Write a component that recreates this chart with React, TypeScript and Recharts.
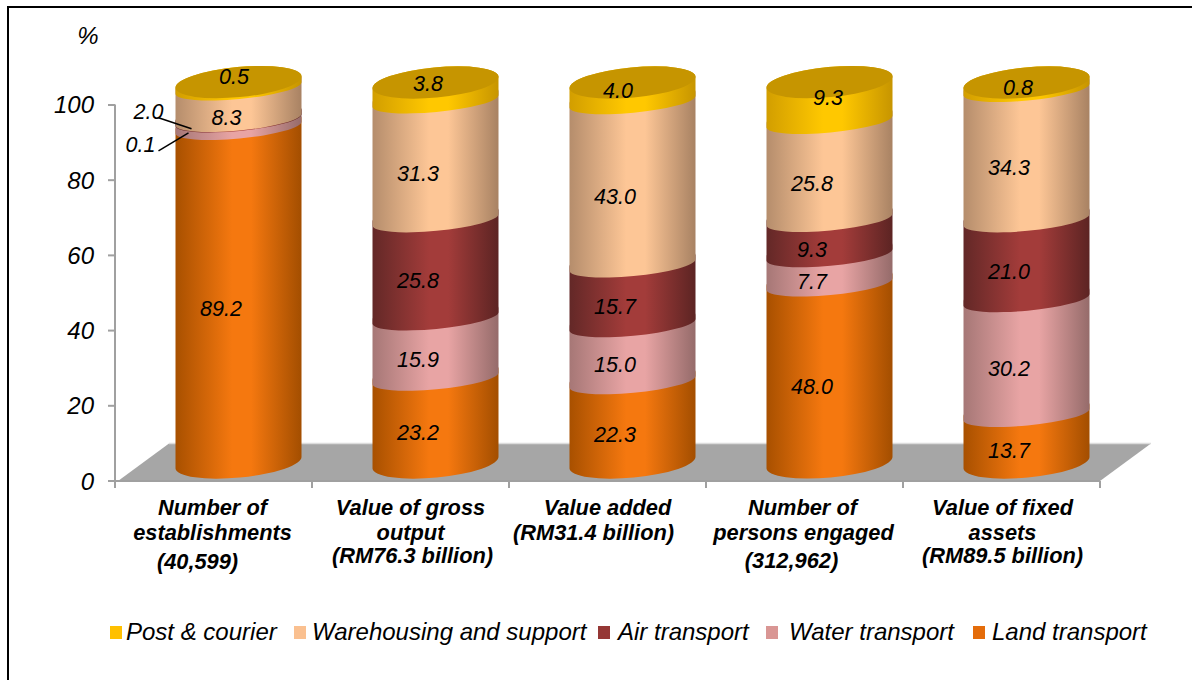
import React from 'react';
import { BarChart, Bar, XAxis, YAxis, Legend, LabelList, ReferenceArea } from 'recharts';

const categories = [
  'Number of|establishments|(40,599)',
  'Value of gross|output|(RM76.3 billion)',
  'Value added|(RM31.4 billion)',
  'Number of|persons engaged|(312,962)',
  'Value of fixed|assets|(RM89.5 billion)',
];
const land = [89.2, 23.2, 22.3, 48.0, 13.7];
const water = [2.0, 15.9, 15.0, 7.7, 30.2];
const air = [0.1, 25.8, 15.7, 9.3, 21.0];
const warehousing = [8.3, 31.3, 43.0, 25.8, 34.3];
const post = [0.5, 3.8, 4.0, 9.3, 0.8];
const yTicks = [0, 20, 40, 60, 80, 100];

const data = categories.map((name, i) => ({
  name,
  land: land[i],
  water: water[i],
  air: air[i],
  warehousing: warehousing[i],
  post: post[i],
}));

// Layout of the pseudo-3D drawing
const PLOT_BOTTOM = 481;
const CYL_BASE = 462.5;
const CYL_K = 1.0106;
const CYL_DX = 24.5;
const RY = 15;
const RY_INNER = 11;
const INNER_SHIFT = 4;
const TILT = 5.4;
const FLOOR_SHIFT = 51;
const BAND = 197;
const FONT = '"Liberation Sans", Arial, sans-serif';

type Grad = [string, string, string];
const gradients: Record<string, Grad> = {
  land: ['#a85000', '#f5780f', '#a34e00'],
  water: ['#a67776', '#e8a4a4', '#956b6a'],
  air: ['#632827', '#a33c3a', '#5c2423'],
  warehousing: ['#b58d6c', '#fdc696', '#a88263'],
  post: ['#d29e00', '#ffc800', '#c79500'],
};

const cylY = (y: number) => CYL_BASE - (PLOT_BOTTOM - y) * CYL_K;

function Cylinder(props: any) {
  const { x, y, width, height, index, seriesKey, isTop, isBottom } = props;
  const left = x + CYL_DX;
  const right = left + width;
  const rx = width / 2;
  const d = rx * Math.tan((TILT * Math.PI) / 180);
  const top = cylY(y);
  const bottom = cylY(y + height) + (isBottom ? 0 : INNER_SHIFT);
  const ryBottom = isBottom ? RY : RY_INNER;
  const id = `g-${seriesKey}-${index}`;
  const [e1, c, e2] = gradients[seriesKey];
  const path =
    `M${left},${bottom + d} A${rx},${ryBottom} ${-TILT} 0 0 ${right},${bottom - d} ` +
    `L${right},${top - d} A${rx},${RY} ${-TILT} 0 0 ${left},${top + d} Z`;
  const capPath =
    `M${left},${top + d} A${rx},${RY} ${-TILT} 1 1 ${right},${top - d} ` +
    `A${rx},${RY} ${-TILT} 1 1 ${left},${top + d} Z`;
  return (
    <g>
      <defs>
        <linearGradient id={id} x1="0" x2="1" y1="0" y2="0">
          <stop offset="0" stopColor={e1} />
          <stop offset="0.45" stopColor={c} />
          <stop offset="0.6" stopColor={c} />
          <stop offset="1" stopColor={e2} />
        </linearGradient>
      </defs>
      <path d={path} fill={`url(#${id})`} />
      {isTop ? <path d={capPath} fill="#c69500" /> : null}
    </g>
  );
}

function Floor(props: any) {
  const { x, y, width, height } = props;
  const pts = [
    [x + 3, y + height],
    [x + FLOOR_SHIFT + 3, y],
    [x + width + FLOOR_SHIFT, y],
    [x + width, y + height],
  ];
  return (
    <g>
      <polygon points={pts.map((p) => p.join(',')).join(' ')} fill="#a6a6a6" />
      <line x1={pts[1][0]} y1={y} x2={pts[2][0]} y2={y} stroke="#dcdcdc" strokeWidth={1.5} />
    </g>
  );
}

const postNudge = [-25, -24, -17, -20, -14];
const postNudgeX = [13, 10, 3, 16, 9];

function makeLabel(seriesKey: string) {
  return function SegmentLabel(props: any) {
    const { x, y, width, height, value, index } = props;
    let cx = x + width / 2 + 7;
    let cy = y + height / 2 - 4;
    let leader: number[] | null = null;
    if (seriesKey === 'post') {
      cy += postNudge[index];
      cx += postNudgeX[index];
    }
    if (index === 0 && seriesKey === 'warehousing') {
      cx += 5.5;
    }
    if (index === 0 && seriesKey === 'water') {
      cx = x + width / 2 - 65.5;
      cy = y + height / 2 - 30;
      leader = [10, 6, 43, 17];
    }
    if (index === 0 && seriesKey === 'air') {
      cx = x + width / 2 - 73.5;
      cy = y + height / 2 + 7;
      leader = [18, 6, 48, -12];
    }
    return (
      <g>
        <text
          x={cx}
          y={cy}
          textAnchor="middle"
          dominantBaseline="central"
          fontFamily={FONT}
          fontStyle="italic"
          fontSize={21.5}
          fill="#000"
        >
          {Number(value).toFixed(1)}
        </text>
        {leader ? (
          <line
            x1={cx + leader[0]}
            y1={cy + leader[1]}
            x2={cx + leader[2]}
            y2={cy + leader[3]}
            stroke="#000"
            strokeWidth={1.5}
          />
        ) : null}
      </g>
    );
  };
}

const tickLineNudge = [
  [[-1, 0], [-1, 0], [-16, 5]],
  [[0, 0], [0, 0], [2, -1]],
  [[0, 0], [-14, 0]],
  [[-2, 0], [-1, 0], [-13, 4]],
  [[1, 0], [1, 0], [1, -1]],
];

function CategoryTick(props: any) {
  const { x, payload, index } = props;
  const lines = String(payload.value).split('|');
  const tickTop = PLOT_BOTTOM;
  return (
    <g>
      <line x1={x - BAND / 2} x2={x - BAND / 2} y1={tickTop} y2={tickTop + 7} stroke="#a0a0a0" strokeWidth={2} />
      {index === categories.length - 1 ? (
        <line x1={x + BAND / 2} x2={x + BAND / 2} y1={tickTop} y2={tickTop + 7} stroke="#a0a0a0" strokeWidth={2} />
      ) : null}
      {lines.map((line, i) => (
        <text
          key={i}
          x={x + tickLineNudge[index][i][0]}
          y={515 + i * 24.5 + tickLineNudge[index][i][1]}
          textAnchor="middle"
          fontFamily={FONT}
          fontStyle="italic"
          fontWeight="bold"
          fontSize={21.8}
          fill="#000"
        >
          {line}
        </text>
      ))}
    </g>
  );
}

const legendLeft = [110, 294, 598, 766, 973];
const legendTextGap = [4, 6, 8, 11, 7];

const series: { key: string; name: string; color: string }[] = [
  { key: 'land', name: 'Land transport', color: '#e46c0a' },
  { key: 'water', name: 'Water transport', color: '#d99694' },
  { key: 'air', name: 'Air transport', color: '#953735' },
  { key: 'warehousing', name: 'Warehousing and support', color: '#fac090' },
  { key: 'post', name: 'Post & courier', color: '#ffc000' },
];
const legendOrder = ['Post & courier', 'Warehousing and support', 'Air transport', 'Water transport', 'Land transport'];

function LegendContent(props: any) {
  const payload = props.payload || [];
  const items = legendOrder.map((n) => payload.find((p: any) => p.value === n)).filter(Boolean);
  return (
    <div style={{ position: 'relative', width: 1192, height: 40 }}>
      {items.map((it: any, i: number) => (
        <div
          key={it.value}
          style={{
            position: 'absolute',
            left: legendLeft[i],
            top: 0,
            display: 'flex',
            alignItems: 'center',
            whiteSpace: 'nowrap',
            height: 28,
          }}
        >
          <span
            style={{
              display: 'inline-block',
              width: 12,
              height: 13,
              background: it.color,
              marginRight: legendTextGap[i],
            }}
          />
          <span style={{ fontFamily: FONT, fontStyle: 'italic', fontSize: 24, color: '#000' }}>{it.value}</span>
        </div>
      ))}
    </div>
  );
}

export default function App() {
  return (
    <div style={{ position: 'absolute', left: 0, top: 0, width: 1192, height: 680, background: '#fff', overflow: 'hidden' }}>
      <div
        style={{
          position: 'absolute',
          left: 7,
          top: 6,
          width: 1220,
          height: 720,
          border: '2px solid #000',
          boxSizing: 'border-box',
        }}
      />
      <div style={{ position: 'absolute', left: 0, top: 0 }}>
        <BarChart
          width={1192}
          height={680}
          data={data}
          barSize={126}
          margin={{ top: 104.6, right: 92, bottom: 139, left: 55 }}
        >
          <XAxis
            dataKey="name"
            interval={0}
            height={60}
            axisLine={{ stroke: '#a0a0a0', strokeWidth: 2 }}
            tickLine={false}
            tickSize={7}
            tick={<CategoryTick />}
          />
          <YAxis
            width={60}
            domain={[0, 100]}
            ticks={yTicks}
            interval={0}
            axisLine={{ stroke: '#a0a0a0', strokeWidth: 2 }}
            tickLine={{ stroke: '#a0a0a0', strokeWidth: 2 }}
            tickSize={7}
            tickMargin={14}
            tick={{ fontFamily: FONT, fontStyle: 'italic', fontSize: 24, fill: '#000' }}
            label={{
              value: '%',
              content: () => (
                <text x={88} y={44} textAnchor="middle" fontFamily={FONT} fontStyle="italic" fontSize={24} fill="#000">
                  %
                </text>
              ),
            }}
          />
          <ReferenceArea y1={0} y2={10} shape={<Floor />} ifOverflow="visible" />
          <Legend
            verticalAlign="middle"
            layout="horizontal"
            wrapperStyle={{ position: 'absolute', left: 0, top: 618, width: 1192 }}
            content={<LegendContent />}
          />
          {series.map((s, si) => (
            <Bar
              key={s.key}
              dataKey={s.key}
              name={s.name}
              stackId="a"
              fill={s.color}
              isAnimationActive={false}
              shape={(p: any) => (
                <Cylinder {...p} seriesKey={s.key} isTop={si === series.length - 1} isBottom={si === 0} />
              )}
            >
              <LabelList dataKey={s.key} content={makeLabel(s.key)} />
            </Bar>
          ))}
        </BarChart>
      </div>
    </div>
  );
}
